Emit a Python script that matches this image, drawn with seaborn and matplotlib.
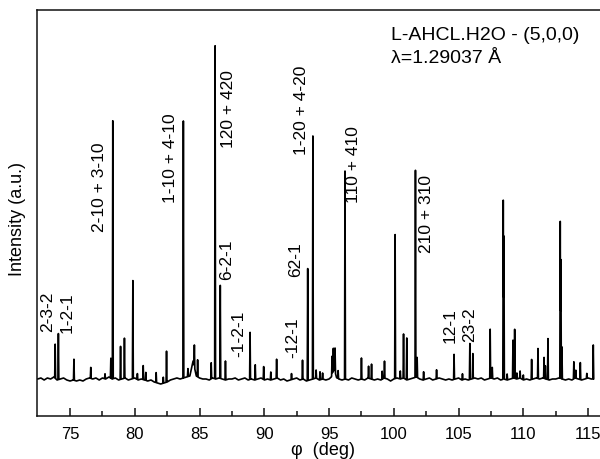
import numpy as np
import pandas as pd
import matplotlib
matplotlib.use('Agg')
import matplotlib.pyplot as plt
import seaborn as sns

# baseline level (a.u.), one reading every 0.25 deg starting at 72.25
base_start = 72.25
base_level = [0,
    0, 1, -1, 1, 0, 2, -1, 0, 1, -1, -2, -1, -2, -1, -2, 0,
    1, 0, 1, -1, 1, 0, 2, 0, 1, -1, 0, 1, -1, 0, 1, -1,
    0, -1, -2, -1, -3, -4, -5, -4, -3, -1, 0, 1, 0, 1, 2, 3,
    4, 3, 1, 0, 0, -1, 1, 0, 1, 0, -1, 0, 0, 1, -1, 0,
    1, -1, 0, -1, 0, 1, -1, 0, -1, 0, 1, -1, 0, -2, -1, 0,
    1, -1, 0, -2, -1, 0, 1, -1, 0, -1, 0, 3, 2, 0, -1, 0,
    -1, 1, 0, -1, 0, -1, 1, 0, -1, 0, -1, 1, 0, -2, 0, 1,
    0, 1, -1, 0, 1, 2, 0, -1, 0, 1, -1, 0, 1, 0, -1, 0,
    -1, 0, 1, -1, 0, -1, 0, 1, 0, 1, -1, 0, 1, 0, 1, -1,
    0, -1, 0, 1, 0, 1, -1, 0, -1, 0, 1, 0, 1, 0, -1, 0,
    0, 1, 0, -1, 0, -1, 1, 0, -1, 0, 1, 0]

# sharp reflections: position (deg) and height (a.u.)
peak_phi = [73.85, 74.1, 75.3, 76.6, 77.7, 78.15, 78.3, 78.9, 79.2, 79.85,
            80.2, 80.65, 80.85, 81.65, 82.2, 82.45, 83.75, 84.1, 84.6, 84.85,
            85.9, 86.2, 86.6, 87.0, 88.9, 89.3, 89.95, 90.5, 90.95, 92.1,
            92.95, 93.35, 93.75, 94.0, 94.3, 94.5, 95.23, 95.33, 95.46, 95.7,
            96.23, 97.5, 98.05, 98.28, 99.1, 99.28, 100.1, 100.5, 100.75, 101.0,
            101.67, 101.8, 102.3, 103.3, 104.65, 105.3, 105.87, 106.1, 107.44, 107.6,
            108.45, 108.5, 108.75, 109.2, 109.33, 109.5, 109.75, 110.0, 110.64, 111.13,
            111.6, 111.7, 111.9, 112.85, 112.9, 112.98, 113.9, 114.05, 114.4, 114.9,
            115.4]
peak_height = [34, 46, 21, 11, 5, 20, 258, 33, 40, 98,
               6, 14, 8, 10, 6, 31, 257, 8, 22, 17,
               16, 333, 93, 19, 47, 15, 13, 8, 19, 6,
               19, 112, 243, 8, 8, 6, 18, 22, 24, 8,
               208, 21, 12, 15, 8, 17, 144, 8, 44, 42,
               207, 20, 8, 9, 25, 6, 36, 25, 49, 11,
               179, 143, 6, 38, 49, 6, 7, 5, 20, 30,
               21, 13, 41, 157, 119, 32, 17, 8, 17, 5,
               34]

# broad humps under the 84.5 and 95.4 groups
hump_phi = [84.5, 95.38]
hump_height = [14, 8]
hump_width = [0.25, 0.2]

labels = ['2-3-2', '1-2-1', '2-10 + 3-10', '1-10 + 4-10', '120 + 420', '6-2-1',
          '-1-2-1', '-12-1', '62-1', '1-20 + 4-20', '110 + 410', '210 + 310',
          '12-1', '23-2']
label_phi = [73.27, 74.77, 77.31, 82.77, 87.23, 87.08,
             88.0, 92.23, 92.38, 92.85, 96.85, 102.54,
             104.31, 105.85]
label_y = [48, 47, 148, 177, 232, 100,
           23, 22, 103, 225, 177, 127,
           37, 38]

sharp_w = 0.035
base_phi = base_start + 0.25 * np.arange(len(base_level))


def profile(x):
    y = np.interp(x, base_phi, base_level).astype(float)
    for p, h, w in zip(hump_phi, hump_height, hump_width):
        y += np.clip(h * (1 - np.abs(x - p) / w), 0, None)
    for p, h in zip(peak_phi, peak_height):
        y += np.clip(h * (1 - np.abs(x - p) / sharp_w), 0, None)
    return y


pts = list(base_phi)
for p in peak_phi:
    pts += [p - sharp_w, p, p + sharp_w]
for p, w in zip(hump_phi, hump_width):
    pts += [p - w, p, p + w]
phi = np.unique(np.array(pts))
phi = phi[phi <= 115.45]
df = pd.DataFrame({'phi': phi, 'intensity': profile(phi)})

sns.set_theme(style='ticks')
plt.rcParams['font.family'] = ['Liberation Sans', 'DejaVu Sans']
plt.rcParams['text.color'] = 'black'
plt.rcParams['xtick.color'] = '#111111'
plt.rcParams['xtick.labelcolor'] = 'black'
plt.rcParams['axes.labelcolor'] = 'black'

fig = plt.figure(figsize=(6, 4.6), dpi=100)
ax = fig.add_axes([0.0617, 0.0924, 0.9517, 0.8837])

sns.lineplot(data=df, x='phi', y='intensity', ax=ax, color='black',
             linewidth=1.2, estimator=None, sort=True)

for t, x, y in zip(labels, label_phi, label_y):
    ax.text(x, y, t, rotation=90, ha='center', va='bottom', fontsize=12.5)

ax.set_xlim(72.45, 116.54)
ax.set_ylim(-37.5, 369)
ax.set_xticks(np.arange(75, 116, 5))
ax.set_xticks(np.arange(77.5, 116, 5), minor=True)
ax.set_yticks([])
ax.tick_params(axis='x', which='major', direction='in', length=6, width=1.1,
               pad=7, labelsize=12)
ax.tick_params(axis='x', which='minor', direction='in', length=3.5, width=1.1)
for s in ax.spines.values():
    s.set_color('#111111')
    s.set_linewidth(1.1)

ax.set_xlabel('φ  (deg)', fontsize=13, labelpad=0)
ax.set_ylabel('')
fig.text(18 / 600, 0.523, 'Intensity (a.u.)', rotation=90, ha='center',
         va='center', fontsize=13)

fig.text(391 / 600, 1 - 40 / 460, 'L-AHCL.H2O - (5,0,0)', fontsize=14,
         va='baseline')
fig.text(391 / 600, 1 - 63 / 460, 'λ=1.29037 Å', fontsize=14, va='baseline')

fig.savefig('out.png', dpi=100)
